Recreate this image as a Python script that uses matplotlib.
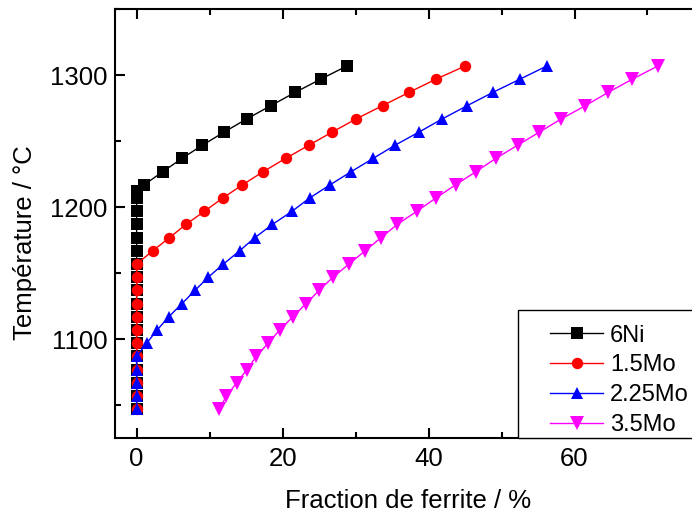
import matplotlib
matplotlib.use("Agg")
import matplotlib.pyplot as plt
from matplotlib.ticker import MultipleLocator
from matplotlib.patches import Rectangle

plt.rcParams['font.family'] = ['Liberation Sans', 'DejaVu Sans']

# --- data ---
labels = ["6Ni", "1.5Mo", "2.25Mo", "3.5Mo"]
colors = ["#000000", "#FF0000", "#0000FF", "#FF00FF"]
markers = ["s", "o", "^", "v"]

T_6Ni = [1047, 1057, 1067, 1077, 1087, 1097, 1107, 1117, 1127, 1137, 1147, 1157,
         1167, 1177, 1187, 1197, 1207, 1212, 1217, 1227, 1237, 1247, 1257, 1267,
         1277, 1287, 1297, 1307]
x_6Ni = [0, 0, 0, 0, 0, 0, 0, 0, 0, 0, 0, 0,
         0, 0, 0, 0, 0, 0, 1.0, 3.6, 6.2, 9.0, 12.0, 15.1,
         18.4, 21.7, 25.2, 28.8]

T_15Mo = [1047, 1057, 1067, 1077, 1087, 1097, 1107, 1117, 1127, 1137, 1147, 1157,
          1167, 1177, 1187, 1197, 1207, 1217, 1227, 1237, 1247, 1257, 1267, 1277,
          1287, 1297, 1307]
x_15Mo = [0, 0, 0, 0, 0, 0, 0, 0, 0, 0, 0, 0,
          2.2, 4.5, 6.75, 9.3, 11.8, 14.5, 17.35, 20.4, 23.6, 26.8, 30.1, 33.7,
          37.3, 41.0, 45.0]

T_225Mo = [1047, 1057, 1067, 1077, 1087, 1097, 1107, 1117, 1127, 1137, 1147, 1157,
           1167, 1177, 1187, 1197, 1207, 1217, 1227, 1237, 1247, 1257, 1267, 1277,
           1287, 1297, 1307]
x_225Mo = [0, 0, 0, 0, 0, 1.37, 2.8, 4.4, 6.2, 8.0, 9.8, 11.9,
           14.1, 16.2, 18.6, 21.3, 23.7, 26.5, 29.4, 32.4, 35.4, 38.7, 41.9, 45.3,
           48.8, 52.5, 56.2]

T_35Mo = [1047, 1057, 1067, 1077, 1087, 1097, 1107, 1117, 1127, 1137, 1147, 1157,
          1167, 1177, 1187, 1197, 1207, 1217, 1227, 1237, 1247, 1257, 1267, 1277,
          1287, 1297, 1307]
x_35Mo = [11.3, 12.3, 13.7, 15.1, 16.4, 18.0, 19.6, 21.4, 23.2, 25.0, 26.9, 29.1,
          31.3, 33.5, 35.7, 38.4, 41.0, 43.7, 46.5, 49.2, 52.2, 55.2, 58.2, 61.5,
          64.6, 67.9, 71.4]

xs = [x_6Ni, x_15Mo, x_225Mo, x_35Mo]
Ts = [T_6Ni, T_15Mo, T_225Mo, T_35Mo]

xticks = [0, 20, 40, 60]
yticks = [1100, 1200, 1300]

FS = 18.5
LFS = 17

fig = plt.figure(figsize=(6.92, 5.16), dpi=100)
ax = fig.add_axes([0.1658, 0.1506, 1.0 - 0.1658, 0.982 - 0.1506])

msizes = [8, 8.2, 9, 9.5]
for x, T, lab, c, m, ms in zip(xs, Ts, labels, colors, markers, msizes):
    ax.plot(x, T, color=c, marker=m, markersize=ms, linewidth=1.0,
            markeredgewidth=0, label=lab, clip_on=False)

ax.set_xlim(-3.0, 76.1)
ax.set_ylim(1025, 1350)
ax.set_xticks(xticks)
ax.set_yticks(yticks)
ax.xaxis.set_minor_locator(MultipleLocator(10))
ax.yaxis.set_minor_locator(MultipleLocator(50))
ax.tick_params(axis='both', which='major', direction='in', length=7, width=1.5,
               labelsize=FS, top=True, right=False)
ax.tick_params(axis='x', which='major', pad=6.5)
ax.tick_params(axis='y', which='major', pad=5)
ax.tick_params(axis='both', which='minor', direction='in', length=4.5, width=1.5,
               top=True, right=False)
for side in ['left', 'bottom', 'top']:
    ax.spines[side].set_linewidth(1.5)
ax.spines['right'].set_visible(False)

ax.set_xlabel("Fraction de ferrite / %", fontsize=FS)
ax.set_ylabel("Température / °C", fontsize=FS)
ax.xaxis.set_label_coords(0.508, -0.119)
ax.yaxis.set_label_coords(-0.134, 0.456)

# legend frame (extends past the right edge like the reference)
frame = Rectangle((0.6986, 0.0), 0.5, 0.299, transform=ax.transAxes,
                  facecolor='white', edgecolor='black', linewidth=1.0,
                  zorder=4, clip_on=False)
ax.add_patch(frame)

leg = ax.legend(loc='upper left', bbox_to_anchor=(0.754, 0.265), fontsize=LFS,
                frameon=False, borderpad=0, borderaxespad=0, handlelength=2.25,
                handletextpad=0.3, labelspacing=0.33)
leg.set_zorder(5)

fig.savefig("out.png", dpi=100)
